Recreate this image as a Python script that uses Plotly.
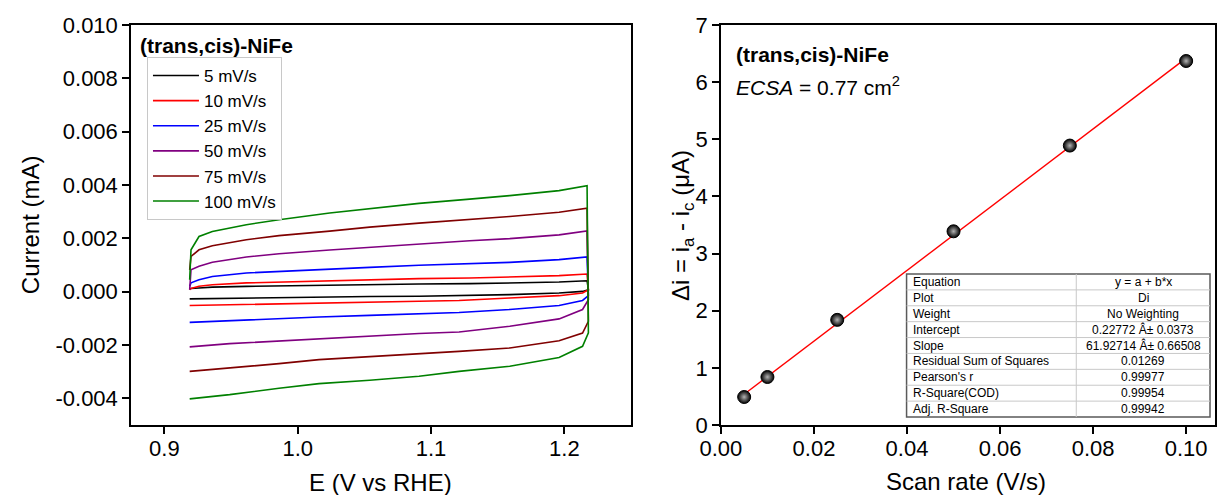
import plotly.graph_objects as go

FONT = "Liberation Sans, Arial, sans-serif"

# ---- Cyclic voltammograms of (trans,cis)-NiFe at several scan rates ----
SCAN_LABELS = ["5 mV/s", "10 mV/s", "25 mV/s", "50 mV/s", "75 mV/s", "100 mV/s"]
SCAN_COLORS = ["#000000", "#ff0000", "#0000ff", "#800080", "#800000", "#008000"]

# potentials (V vs RHE) of the anodic (forward) and cathodic (reverse) sweeps
E_FWD = [0.919, 0.920, 0.926, 0.936, 0.9615, 0.986, 1.024, 1.054, 1.091, 1.129, 1.159, 1.196, 1.217]
E_REV = [1.218, 1.2136, 1.196, 1.159, 1.121, 1.091, 1.054, 1.016, 0.986, 0.949, 0.919]

# current (mA), anodic sweep
I_FWD_5 = [0.00010, 0.00012, 0.00014, 0.00017, 0.00020, 0.00022, 0.00025, 0.00026, 0.00029, 0.00030, 0.00032, 0.00036, 0.00041]
I_FWD_10 = [0.00007, 0.00012, 0.00020, 0.00026, 0.00033, 0.00036, 0.00042, 0.00045, 0.00049, 0.00051, 0.00055, 0.00060, 0.00066]
I_FWD_25 = [0.00020, 0.00033, 0.00045, 0.00057, 0.00070, 0.00076, 0.00086, 0.00091, 0.00099, 0.00105, 0.00110, 0.00120, 0.00130]
I_FWD_50 = [0.00007, 0.00082, 0.00095, 0.00110, 0.00130, 0.00142, 0.00156, 0.00166, 0.00180, 0.00191, 0.00199, 0.00213, 0.00228]
I_FWD_75 = [0.00082, 0.00132, 0.00157, 0.00172, 0.00195, 0.00210, 0.00227, 0.00242, 0.00257, 0.00270, 0.00282, 0.00298, 0.00313]
I_FWD_100 = [0.00045, 0.00157, 0.00207, 0.00226, 0.00251, 0.00270, 0.00295, 0.00312, 0.00331, 0.00347, 0.00360, 0.00379, 0.00397]

# current (mA), cathodic sweep
I_REV_5 = [0.00007, 0.00001, -0.00005, -0.00011, -0.00015, -0.00017, -0.00018, -0.00021, -0.00023, -0.00026, -0.00027]
I_REV_10 = [0.00007, -0.00005, -0.00015, -0.00024, -0.00033, -0.00036, -0.00040, -0.00043, -0.00046, -0.00049, -0.00052]
I_REV_25 = [-0.00015, -0.00033, -0.00052, -0.00067, -0.00078, -0.00082, -0.00089, -0.00095, -0.00102, -0.00109, -0.00115]
I_REV_50 = [-0.00030, -0.00067, -0.00102, -0.00130, -0.00151, -0.00157, -0.00167, -0.00176, -0.00186, -0.00195, -0.00207]
I_REV_75 = [-0.00111, -0.00155, -0.00184, -0.00211, -0.00224, -0.00233, -0.00245, -0.00255, -0.00270, -0.00286, -0.00299]
I_REV_100 = [-0.00154, -0.00205, -0.00247, -0.00280, -0.00299, -0.00317, -0.00332, -0.00345, -0.00362, -0.00386, -0.00402]

I_FWD = [I_FWD_5, I_FWD_10, I_FWD_25, I_FWD_50, I_FWD_75, I_FWD_100]
I_REV = [I_REV_5, I_REV_10, I_REV_25, I_REV_50, I_REV_75, I_REV_100]

CURRENT_TICKS = [-0.004, -0.002, 0.000, 0.002, 0.004, 0.006, 0.008, 0.010]

# ---- Double-layer charging current vs scan rate ----
SCAN_RATE = [0.005, 0.010, 0.025, 0.050, 0.075, 0.100]   # V/s
DELTA_I = [0.49, 0.84, 1.84, 3.39, 4.89, 6.37]            # uA

FIT_A = 0.22772
FIT_B = 61.92714

TABLE_KEYS = ["Equation", "Plot", "Weight", "Intercept", "Slope",
              "Residual Sum of Squares", "Pearson's r", "R-Square(COD)", "Adj. R-Square"]
TABLE_VALUES = ["y = a + b*x", "Di", "No Weighting", "0.22772 Â± 0.0373",
                "61.92714 Â± 0.66508", "0.01269", "0.99977", "0.99954", "0.99942"]

# ---- page geometry (pixels) ----
W, H = 1220, 495
L, R, T, B = 131, 1217, 25, 425


def px(x):
    return (x - L) / (R - L)


def py(y):
    return (B - y) / (B - T)


fig = go.Figure()

for k in range(len(SCAN_LABELS)):
    fig.add_trace(go.Scatter(
        x=E_FWD + E_REV, y=I_FWD[k] + I_REV[k],
        mode="lines", name=SCAN_LABELS[k],
        line=dict(color=SCAN_COLORS[k], width=1.6),
        xaxis="x", yaxis="y",
    ))

fit_x = [SCAN_RATE[0], SCAN_RATE[-1]]
fit_y = [FIT_A + FIT_B * v for v in fit_x]
fig.add_trace(go.Scatter(
    x=fit_x, y=fit_y, mode="lines", showlegend=False,
    line=dict(color="#ff0000", width=1.4), xaxis="x2", yaxis="y2",
))
fig.add_trace(go.Scatter(
    x=SCAN_RATE, y=DELTA_I, mode="markers", showlegend=False,
    marker=dict(size=13, color="#000000",
                gradient=dict(type="radial", color="#b4b4b4"),
                line=dict(color="#000000", width=1)),
    xaxis="x2", yaxis="y2",
))

axis_common = dict(
    showline=True, linecolor="black", linewidth=1.5, mirror=True,
    ticks="outside", ticklen=7, tickwidth=1.5, tickcolor="black",
    showgrid=False, zeroline=False,
    tickfont=dict(family=FONT, size=22, color="black"),
)

x1_dom = [0, px(632)]
x2_dom = [px(722), 1]

fig.update_layout(
    width=W, height=H,
    margin=dict(l=L, r=W - R, t=T, b=H - B, pad=0),
    paper_bgcolor="white", plot_bgcolor="white",
    font=dict(family=FONT, color="black"),
    xaxis=dict(domain=x1_dom, range=[0.875, 1.25], dtick=0.1, tick0=0.9,
               tickformat=".1f", anchor="y", ticklabelstandoff=-4, **axis_common),
    yaxis=dict(domain=[0, 1], range=[-0.005, 0.010],
               tickvals=CURRENT_TICKS,
               ticktext=["%.3f" % v for v in CURRENT_TICKS],
               anchor="x", **axis_common),
    xaxis2=dict(domain=x2_dom, range=[0, 0.1062], dtick=0.02, tick0=0,
                tickformat=".2f", anchor="y2", ticklabelstandoff=-4, **axis_common),
    yaxis2=dict(domain=[0, 1], range=[0, 7], dtick=1, tick0=0,
                anchor="x2", **axis_common),
    legend=dict(
        x=px(147), y=py(57), xanchor="left", yanchor="top",
        bordercolor="#c8c8c8", borderwidth=1, bgcolor="white",
        font=dict(family=FONT, size=17, color="black"),
        itemwidth=46, tracegroupgap=0,
    ),
    showlegend=True,
)


def label(text, x, y, size, angle=0, xanchor="center"):
    return dict(text=text, x=px(x), y=py(y), xref="paper", yref="paper",
                xanchor=xanchor, yanchor="middle", textangle=angle,
                showarrow=False, font=dict(family=FONT, size=size, color="black"))


ann = [
    # axis titles
    label("E (V vs RHE)", 381, 482, 24),
    label("Current (mA)", 30, 225, 24, angle=-90),
    label("Scan rate (V/s)", 968, 481, 24),
    label("Δi = i<sub>a</sub> - i<sub>c</sub> (μA)", 683, 225, 24, angle=-90),
    # panel labels
    label("<b>(trans,cis)-NiFe</b>", 138, 45, 21, xanchor="left"),
    label("<b>(trans,cis)-NiFe</b>", 735, 54, 21, xanchor="left"),
    label("<i>ECSA</i> = 0.77 cm<sup>2</sup>", 735, 86, 21, xanchor="left"),
]

# fit result table
tx0, tx1, tdiv, ty0, ty1 = 908, 1212, 1078, 274, 417
nrow = len(TABLE_KEYS)
rh = (ty1 - ty0) / nrow
shapes = [dict(type="rect", xref="paper", yref="paper",
               x0=px(tx0), x1=px(tx1), y0=py(ty1), y1=py(ty0),
               fillcolor="white", line=dict(color="#5a5a5a", width=1.5), layer="above")]
for r in range(1, nrow):
    yy = py(ty0 + r * rh)
    shapes.append(dict(type="line", xref="paper", yref="paper", x0=px(tx0), x1=px(tx1),
                       y0=yy, y1=yy, line=dict(color="#c8c8c8", width=1), layer="above"))
shapes.append(dict(type="line", xref="paper", yref="paper", x0=px(tdiv), x1=px(tdiv),
                   y0=py(ty1), y1=py(ty0), line=dict(color="#c8c8c8", width=1), layer="above"))
for r in range(nrow):
    yc = ty0 + (r + 0.5) * rh
    ann.append(label(TABLE_KEYS[r], tx0 + 4, yc, 12, xanchor="left"))
    ann.append(label(TABLE_VALUES[r], (tdiv + tx1) / 2, yc, 12))

fig.update_layout(annotations=ann, shapes=shapes)

fig.write_html("out.html")
